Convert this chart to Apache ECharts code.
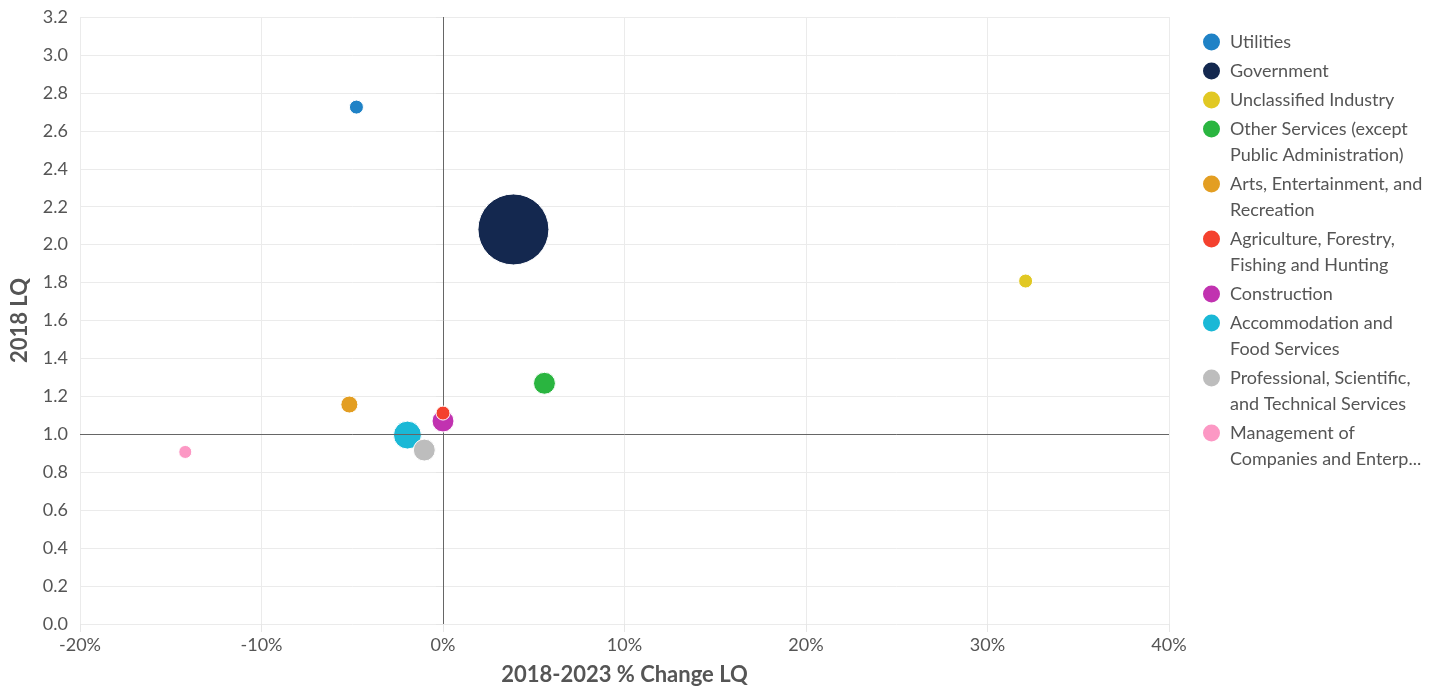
<!DOCTYPE html>
<html>
<head>
<meta charset="utf-8">
<script src="https://cdn.jsdelivr.net/npm/echarts@6/dist/echarts.min.js"></script>
<style>
html,body{margin:0;padding:0;background:#fff;}
#chart{width:1450px;height:688px;}
</style>
</head>
<body>
<div id="chart"></div>
<script>
const categories = [
  'Utilities',
  'Government',
  'Unclassified Industry',
  'Other Services (except Public Administration)',
  'Arts, Entertainment, and Recreation',
  'Agriculture, Forestry, Fishing and Hunting',
  'Construction',
  'Accommodation and Food Services',
  'Professional, Scientific, and Technical Services',
  'Management of Companies and Enterprises'
];
const legendLabels = [
  'Utilities',
  'Government',
  'Unclassified Industry',
  'Other Services (except\nPublic Administration)',
  'Arts, Entertainment, and\nRecreation',
  'Agriculture, Forestry,\nFishing and Hunting',
  'Construction',
  'Accommodation and\nFood Services',
  'Professional, Scientific,\nand Technical Services',
  'Management of\nCompanies and Enterp...'
];
const changePct = [-4.77, 3.88, 32.1, 5.59, -5.16, 0.0, 0.0, -1.96, -1.03, -14.2];
const lq2018 = [2.725, 2.08, 1.808, 1.269, 1.157, 1.112, 1.07, 0.996, 0.917, 0.907];
const bubbleValue = [196, 5040, 196, 480, 290, 196, 480, 780, 480, 170];
const colors = ['#1f82c6', '#14284f', '#e1c823', '#2ab540', '#e39e22', '#f4412e', '#c132b0', '#1ab8d6', '#bdbdbd', '#fc98c4'];
const xTicks = { min: -20, max: 40, interval: 10 };
const yTicks = { min: 0, max: 3.2, interval: 0.2 };

const chart = echarts.init(document.getElementById('chart'));
const font = 'Lato, "Noto Sans", sans-serif';

// draw order: larger bubbles underneath
const order = bubbleValue.map((v, i) => i).sort((a, b) => bubbleValue[b] - bubbleValue[a]);
const rank = {};
order.forEach((idx, r) => { rank[idx] = r; });

const series = categories.map((name, i) => ({
  name: name,
  type: 'scatter',
  data: [[changePct[i], lq2018[i], bubbleValue[i]]],
  symbolSize: d => Math.sqrt(d[2]),
  itemStyle: { color: colors[i], opacity: 1, borderColor: '#ffffff', borderWidth: 1 },
  z: 2 + rank[i] + (i === 5 ? 1 : 0),
  emphasis: { scale: false }
}));

series.push({
  type: 'scatter',
  data: [],
  silent: true,
  z: 30,
  markLine: {
    silent: true,
    symbol: 'none',
    label: { show: false },
    lineStyle: { color: '#666666', width: 1, type: 'solid' },
    emphasis: { disabled: true },
    animation: false,
    data: [{ xAxis: 0 }, { yAxis: 1 }]
  }
});

const legendCenters = [42, 71, 100, 129, 184, 239, 294, 323, 378, 433];
const legends = categories.map((name, i) => {
  const twoLine = legendLabels[i].indexOf('\n') >= 0;
  const text = twoLine ? ' \n' + legendLabels[i] : legendLabels[i];
  return {
    left: 1201,
    top: legendCenters[i] - (twoLine ? 39 : 13),
    padding: 0,
    orient: 'vertical',
    itemWidth: 19,
    itemHeight: 19,
    icon: 'circle',
    data: [{ name: name, icon: 'circle' }],
    formatter: () => text,
    textStyle: {
      fontFamily: font,
      fontSize: 18,
      color: '#555555',
      lineHeight: 26,
      padding: [0, 0, 0, 4]
    }
  };
});

chart.setOption({
  animation: false,
  textStyle: { fontFamily: font },
  grid: { left: 80, right: 281, top: 17, bottom: 64, containLabel: false, outerBoundsMode: 'none' },
  legend: legends,
  xAxis: {
    type: 'value',
    min: xTicks.min, max: xTicks.max, interval: xTicks.interval,
    name: '2018-2023 % Change LQ',
    nameLocation: 'middle',
    nameGap: 40,
    nameTextStyle: { fontFamily: font, fontSize: 22, fontWeight: 'bold', color: '#555555' },
    axisLine: { show: false },
    axisTick: { show: true, length: 8, lineStyle: { color: '#e6e6e6' } },
    axisLabel: { formatter: v => v + '%', fontSize: 18, color: '#555555', margin: 12 },
    splitLine: { show: true, lineStyle: { color: '#ebebeb', width: 1 } }
  },
  yAxis: {
    type: 'value',
    min: yTicks.min, max: yTicks.max, interval: yTicks.interval,
    name: '2018 LQ',
    nameLocation: 'middle',
    nameGap: 49,
    nameTextStyle: { fontFamily: font, fontSize: 22, fontWeight: 'bold', color: '#555555' },
    axisLine: { show: false },
    axisTick: { show: true, length: 7, lineStyle: { color: '#e6e6e6' } },
    axisLabel: { formatter: v => v.toFixed(1), fontSize: 18, color: '#555555', margin: 12 },
    splitLine: { show: true, lineStyle: { color: '#ebebeb', width: 1 } }
  },
  series: series
});
</script>
</body>
</html>
